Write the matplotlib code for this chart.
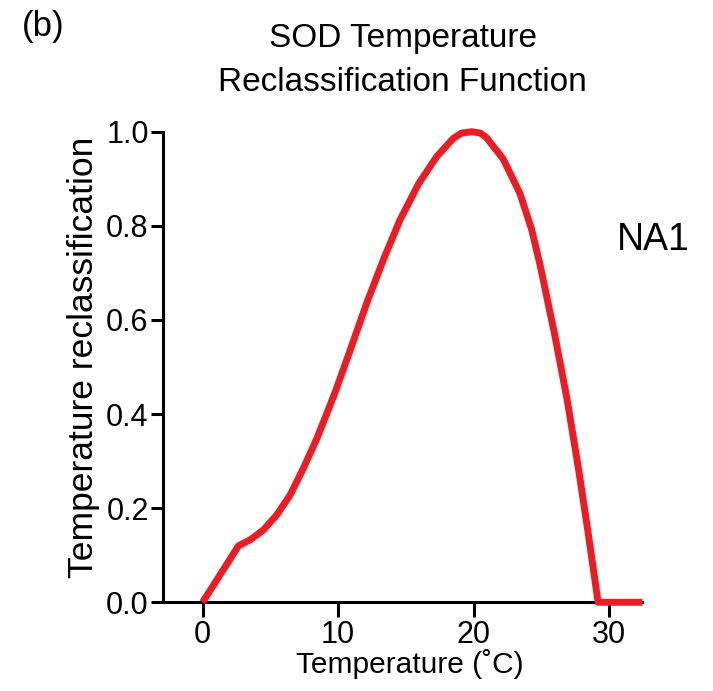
import matplotlib.pyplot as plt

# temperature (deg C) vs reclassification value
temperature = [0.0, 2.65, 3.52, 4.5, 5.48, 6.46, 7.44, 8.43, 9.41, 9.8,
               10.88, 12.1, 13.34, 14.57, 15.95, 17.27, 18.5, 19.1, 19.85,
               20.5, 20.96, 22.18, 23.41, 24.27, 24.89, 25.99, 26.9,
               27.71, 28.45, 29.18, 32.45]
reclass = [0.0, 0.12, 0.133, 0.154, 0.186, 0.228, 0.285, 0.348, 0.419,
           0.448, 0.535, 0.635, 0.728, 0.813, 0.89, 0.947, 0.986, 0.997,
           1.0, 0.997, 0.987, 0.942, 0.869, 0.793, 0.718, 0.567, 0.43,
           0.288, 0.147, 0.0, 0.0]
x_ticks = [0, 10, 20, 30]
y_ticks = [0.0, 0.2, 0.4, 0.6, 0.8, 1.0]

plt.rcParams['font.family'] = ['Liberation Sans', 'DejaVu Sans']

fig = plt.figure(figsize=(7.13, 6.91), dpi=100)
ax = fig.add_axes([0.229, 0.1284, 0.672, 0.681])

ax.plot(temperature, reclass, color='#ED1C24', lw=5, clip_on=False,
        solid_capstyle='butt', solid_joinstyle='round', zorder=3)

ax.set_xlim(-2.9, 32.45)
ax.set_ylim(0, 1.0)
ax.set_xticks(x_ticks)
ax.set_yticks(y_ticks)
ax.set_yticklabels([f'{v:.1f}' for v in y_ticks])

for side in ['top', 'right']:
    ax.spines[side].set_visible(False)
for side in ['left', 'bottom']:
    ax.spines[side].set_linewidth(2.2)
ax.tick_params(axis='x', length=11, width=2.2, labelsize=22, pad=2)
ax.tick_params(axis='y', length=8.5, width=2.2, labelsize=22, pad=2)

ax.set_xlabel('Temperature (˚C)', fontsize=21.5)
ax.xaxis.set_label_coords(0.515, -0.1)
ax.set_ylabel('Temperature reclassification', fontsize=25.5)
ax.yaxis.set_label_coords(-0.132, 0.52)
ax.set_title('SOD Temperature\nReclassification Function', fontsize=24,
             pad=29, linespacing=1.55)

fig.text(0.916, 0.653, 'NA1', fontsize=27, ha='center', va='center')
fig.text(0.03, 0.962, '(b)', fontsize=25, ha='left', va='center')

fig.savefig('out.png', dpi=100)
